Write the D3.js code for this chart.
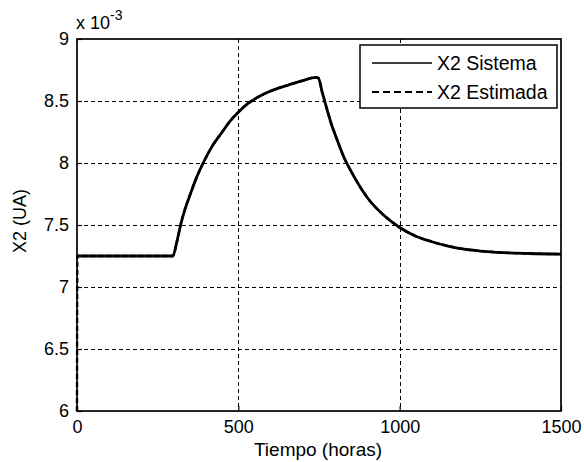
<!DOCTYPE html>
<html>
<head>
<meta charset="utf-8">
<script src="https://cdn.jsdelivr.net/npm/d3@7"></script>
<style>
  html, body { margin: 0; padding: 0; background: #fff; }
  svg { display: block; font-family: "Liberation Sans", Arial, sans-serif; }
</style>
</head>
<body>
<svg id="chart" width="584" height="462"></svg>
<script>
// ---- data (x2 in units of 1e-3) ----
const timeHours = [0, 100, 200, 297, 310, 321, 335, 350, 370, 391, 420, 450, 475, 500, 530, 560, 600, 650, 700, 740, 748, 760, 775, 790, 800, 830, 850, 900, 950, 1000, 1050, 1100, 1150, 1200, 1250, 1300, 1400, 1500];
const x2Sistema  = [7.25, 7.25, 7.25, 7.25, 7.37, 7.50, 7.63, 7.74, 7.88, 8.00, 8.14, 8.25, 8.34, 8.41, 8.48, 8.53, 8.58, 8.625, 8.665, 8.69, 8.685, 8.57, 8.43, 8.30, 8.23, 8.03, 7.93, 7.72, 7.58, 7.48, 7.41, 7.365, 7.33, 7.305, 7.29, 7.28, 7.27, 7.265];
const estTimeHours = [0, 1, 100, 200, 297, 310, 321, 335, 350, 370, 391, 420, 450, 475, 500, 530, 560, 600, 650, 700, 740, 748, 760, 775, 790, 800, 830, 850, 900, 950, 1000, 1050, 1100, 1150, 1200, 1250, 1300, 1400, 1500];
const x2Estimada = [6.0, 7.25, 7.25, 7.25, 7.25, 7.37, 7.50, 7.63, 7.74, 7.88, 8.00, 8.14, 8.25, 8.34, 8.41, 8.48, 8.53, 8.58, 8.625, 8.665, 8.69, 8.685, 8.57, 8.43, 8.30, 8.23, 8.03, 7.93, 7.72, 7.58, 7.48, 7.41, 7.365, 7.33, 7.305, 7.29, 7.28, 7.27, 7.265];
const xTicks = [0, 500, 1000, 1500];
const yTicks = [6, 6.5, 7, 7.5, 8, 8.5, 9];
const yTickLabels = ["6", "6.5", "7", "7.5", "8", "8.5", "9"];
const seriesNames = ["X2 Sistema", "X2 Estimada"];

const svg = d3.select("#chart");
const L = 77, R = 561, T = 39, B = 411;
const x = d3.scaleLinear().domain([0, 1500]).range([L, R]);
const y = d3.scaleLinear().domain([6, 9]).range([B, T]);

// grid
const grid = svg.append("g").attr("stroke", "#000").attr("stroke-width", 1.3)
  .attr("stroke-dasharray", "3.5,3.5").attr("fill", "none").attr("shape-rendering", "crispEdges");
grid.selectAll("line.gx").data(xTicks.slice(1, -1)).join("line")
  .attr("x1", d => Math.round(x(d)) + 0.5).attr("x2", d => Math.round(x(d)) + 0.5).attr("y1", T).attr("y2", B);
grid.selectAll("line.gy").data(yTicks.slice(1, -1)).join("line")
  .attr("x1", L).attr("x2", R).attr("y1", d => Math.round(y(d)) + 0.5).attr("y2", d => Math.round(y(d)) + 0.5);

// axes using d3 axis generators (ticks inward)
const fs = 18;
const xAxis = svg.append("g").attr("transform", `translate(0,${B})`)
  .call(d3.axisBottom(x).tickValues(xTicks).tickSize(-5).tickPadding(9).tickFormat(d3.format("d")));
const yAxis = svg.append("g").attr("transform", `translate(${L},0)`)
  .call(d3.axisLeft(y).tickValues(yTicks).tickSize(-5).tickPadding(8).tickFormat((d, i) => yTickLabels[i]));
[xAxis, yAxis].forEach(a => {
  a.select(".domain").remove();
  a.selectAll(".tick line").attr("stroke", "#000").attr("stroke-width", 1.2);
  a.selectAll(".tick text").attr("fill", "#000").style("font-size", fs + "px")
    .style("font-family", "Liberation Sans, Arial, sans-serif");
});

// box
svg.append("rect").attr("x", L).attr("y", T).attr("width", R - L).attr("height", B - T)
  .attr("fill", "none").attr("stroke", "#000").attr("stroke-width", 1.7);

// lines
const sys = timeHours.map((t, i) => [t, x2Sistema[i]]);
const est = estTimeHours.map((t, i) => [t, x2Estimada[i]]);
const lineGen = d3.line().x(d => x(d[0])).y(d => y(d[1])).curve(d3.curveMonotoneX);
svg.append("path").datum(sys).attr("d", lineGen).attr("fill", "none")
  .attr("stroke", "#000").attr("stroke-width", 2.8).attr("stroke-linejoin", "round");
svg.append("path").datum(est).attr("d", d3.line().x(d => x(d[0])).y(d => y(d[1])).curve(d3.curveMonotoneX))
  .attr("fill", "none").attr("stroke", "#000").attr("stroke-width", 2.4)
  .attr("stroke-dasharray", "5,3");

// exponent label
const ex = svg.append("text").attr("x", L - 1).attr("y", 29).attr("fill", "#000")
  .style("font-size", fs + "px");
ex.append("tspan").text("x 10");
ex.append("tspan").attr("dy", -9).style("font-size", "14px").text("-3");

// axis titles
svg.append("text").attr("x", 318).attr("y", 456).attr("text-anchor", "middle")
  .style("font-size", "19px").attr("fill", "#000").text("Tiempo (horas)");
svg.append("text").attr("transform", "translate(26,221) rotate(-90)").attr("text-anchor", "middle")
  .style("font-size", fs + "px").attr("fill", "#000").text("X2 (UA)");

// legend
const lg = svg.append("g");
lg.append("rect").attr("x", 360).attr("y", 45).attr("width", 197).attr("height", 63)
  .attr("fill", "#fff").attr("stroke", "#000").attr("stroke-width", 1.5);
const rows = [63, 92];
seriesNames.forEach((name, i) => {
  lg.append("line").attr("x1", 372).attr("x2", 432).attr("y1", rows[i]).attr("y2", rows[i])
    .attr("stroke", "#000").attr("stroke-width", i === 0 ? 1.6 : 2.2)
    .attr("stroke-dasharray", i === 0 ? null : "7,4");
  lg.append("text").attr("x", 437).attr("y", rows[i] + 7).style("font-size", "19.5px")
    .attr("fill", "#000").text(name);
});
</script>
</body>
</html>
